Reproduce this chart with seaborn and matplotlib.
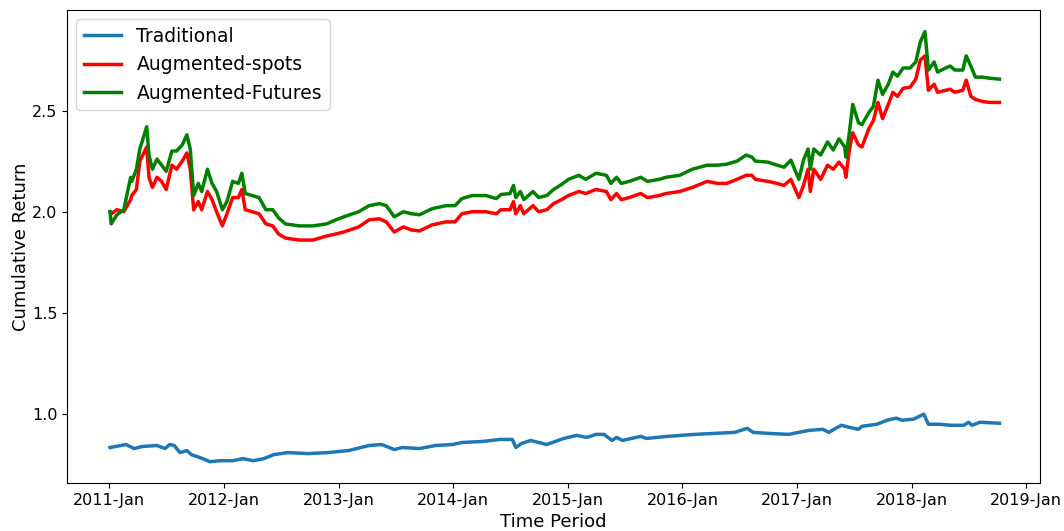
import numpy as np
import pandas as pd
import matplotlib
matplotlib.use("Agg")
import matplotlib.pyplot as plt
import matplotlib.dates as mdates
import seaborn as sns

# decimal-year positions and cumulative returns
aug_years = [
    2011.00, 2011.01, 2011.06, 2011.12, 2011.18, 2011.19, 2011.23, 2011.26, 2011.32, 2011.34,
    2011.37, 2011.41, 2011.45, 2011.49, 2011.54, 2011.58, 2011.63, 2011.67, 2011.70, 2011.73,
    2011.77, 2011.80, 2011.85, 2011.89, 2011.93, 2011.98, 2012.02, 2012.07, 2012.12, 2012.15,
    2012.18, 2012.24, 2012.30, 2012.36, 2012.42, 2012.47, 2012.53, 2012.65, 2012.77, 2012.89,
    2012.97, 2013.04, 2013.17, 2013.26, 2013.35, 2013.41, 2013.48, 2013.56, 2013.63, 2013.70,
    2013.81, 2013.93, 2014.01, 2014.07, 2014.16, 2014.28, 2014.37, 2014.41, 2014.49, 2014.52,
    2014.54, 2014.58, 2014.61, 2014.69, 2014.74, 2014.81, 2014.87, 2014.94, 2015.00, 2015.09,
    2015.15, 2015.24, 2015.33, 2015.37, 2015.42, 2015.46, 2015.53, 2015.63, 2015.69, 2015.79,
    2015.85, 2015.97, 2016.08, 2016.21, 2016.30, 2016.38, 2016.47, 2016.55, 2016.60, 2016.63,
    2016.74, 2016.82, 2016.88, 2016.94, 2017.01, 2017.05, 2017.09, 2017.11, 2017.14, 2017.20,
    2017.26, 2017.31, 2017.36, 2017.41, 2017.42, 2017.45, 2017.48, 2017.53, 2017.56, 2017.62,
    2017.66, 2017.70, 2017.74, 2017.79, 2017.83, 2017.87, 2017.92, 2017.98, 2018.03, 2018.07,
    2018.11, 2018.14, 2018.19, 2018.22, 2018.29, 2018.33, 2018.37, 2018.44, 2018.47, 2018.51,
    2018.55, 2018.61, 2018.67, 2018.76,
]
futures = [
    2.00, 1.94, 1.985, 2.01, 2.17, 2.15, 2.21, 2.31, 2.42, 2.28,
    2.21, 2.26, 2.23, 2.20, 2.30, 2.30, 2.33, 2.38, 2.31, 2.08,
    2.14, 2.10, 2.21, 2.14, 2.10, 2.01, 2.05, 2.15, 2.14, 2.19,
    2.09, 2.08, 2.07, 2.01, 2.01, 1.97, 1.94, 1.93, 1.93, 1.94,
    1.96, 1.975, 2.00, 2.03, 2.04, 2.03, 1.975, 2.00, 1.99, 1.985,
    2.015, 2.03, 2.03, 2.065, 2.08, 2.08, 2.065, 2.085, 2.09, 2.13,
    2.07, 2.10, 2.06, 2.10, 2.07, 2.08, 2.11, 2.135, 2.16, 2.18,
    2.16, 2.19, 2.18, 2.14, 2.17, 2.14, 2.15, 2.17, 2.15, 2.16,
    2.17, 2.18, 2.21, 2.23, 2.23, 2.235, 2.25, 2.28, 2.27, 2.25,
    2.245, 2.23, 2.22, 2.255, 2.16, 2.255, 2.31, 2.21, 2.31, 2.28,
    2.345, 2.305, 2.36, 2.32, 2.27, 2.39, 2.53, 2.44, 2.43, 2.49,
    2.52, 2.65, 2.58, 2.63, 2.69, 2.67, 2.71, 2.71, 2.74, 2.84,
    2.89, 2.70, 2.74, 2.69, 2.71, 2.72, 2.70, 2.70, 2.77, 2.72,
    2.665, 2.665, 2.66, 2.655,
]
spots = [
    2.00, 1.99, 2.01, 2.00, 2.06, 2.08, 2.11, 2.25, 2.32, 2.17,
    2.12, 2.17, 2.15, 2.11, 2.23, 2.21, 2.25, 2.29, 2.21, 2.01,
    2.05, 2.01, 2.10, 2.06, 2.00, 1.93, 1.99, 2.07, 2.07, 2.11,
    2.01, 2.00, 1.99, 1.94, 1.93, 1.89, 1.87, 1.86, 1.86, 1.88,
    1.89, 1.90, 1.925, 1.96, 1.965, 1.95, 1.90, 1.925, 1.91, 1.905,
    1.935, 1.95, 1.95, 1.99, 2.00, 2.00, 1.99, 2.01, 2.01, 2.05,
    1.99, 2.03, 1.99, 2.03, 2.00, 2.01, 2.04, 2.06, 2.08, 2.10,
    2.09, 2.11, 2.10, 2.06, 2.09, 2.06, 2.07, 2.09, 2.07, 2.08,
    2.09, 2.10, 2.12, 2.15, 2.14, 2.14, 2.16, 2.18, 2.18, 2.16,
    2.15, 2.14, 2.13, 2.16, 2.07, 2.13, 2.21, 2.10, 2.21, 2.16,
    2.23, 2.21, 2.245, 2.21, 2.17, 2.305, 2.39, 2.33, 2.32, 2.41,
    2.45, 2.54, 2.46, 2.53, 2.59, 2.57, 2.61, 2.615, 2.655, 2.75,
    2.77, 2.60, 2.63, 2.59, 2.60, 2.605, 2.59, 2.60, 2.65, 2.57,
    2.555, 2.545, 2.54, 2.54,
]

trad_years = [
    2011.00, 2011.14, 2011.21, 2011.28, 2011.41, 2011.48, 2011.52, 2011.56, 2011.61, 2011.67,
    2011.71, 2011.76, 2011.81, 2011.87, 2011.96, 2012.07, 2012.16, 2012.25, 2012.34, 2012.43,
    2012.55, 2012.73, 2012.90, 2013.08, 2013.26, 2013.37, 2013.48, 2013.55, 2013.70, 2013.84,
    2013.99, 2014.07, 2014.25, 2014.40, 2014.51, 2014.54, 2014.59, 2014.67, 2014.81, 2014.96,
    2015.07, 2015.16, 2015.24, 2015.31, 2015.38, 2015.42, 2015.47, 2015.63, 2015.68, 2015.86,
    2016.10, 2016.28, 2016.45, 2016.56, 2016.61, 2016.74, 2016.92, 2017.10, 2017.22, 2017.27,
    2017.38, 2017.45, 2017.53, 2017.56, 2017.69, 2017.78, 2017.86, 2017.91, 2018.01, 2018.10,
    2018.14, 2018.24, 2018.33, 2018.45, 2018.49, 2018.52, 2018.59, 2018.76,
]
traditional = [
    0.835, 0.85, 0.83, 0.84, 0.845, 0.83, 0.85, 0.845, 0.81, 0.82,
    0.80, 0.79, 0.78, 0.765, 0.77, 0.77, 0.78, 0.77, 0.78, 0.80,
    0.81, 0.805, 0.81, 0.82, 0.845, 0.85, 0.825, 0.835, 0.83, 0.845,
    0.85, 0.86, 0.865, 0.875, 0.875, 0.835, 0.855, 0.87, 0.85, 0.88,
    0.895, 0.885, 0.90, 0.90, 0.87, 0.885, 0.87, 0.89, 0.88, 0.89,
    0.90, 0.905, 0.91, 0.93, 0.91, 0.905, 0.90, 0.92, 0.925, 0.91,
    0.945, 0.935, 0.925, 0.94, 0.95, 0.97, 0.98, 0.97, 0.975, 1.00,
    0.95, 0.95, 0.945, 0.945, 0.96, 0.945, 0.96, 0.955,
]


def to_dates(years):
    years = np.asarray(years)
    return pd.Timestamp("2011-01-03") + pd.to_timedelta((years - 2011.0) * 365.25, unit="D")


fig, ax = plt.subplots(figsize=(10.64, 5.31), dpi=100)

sns.lineplot(x=to_dates(trad_years), y=traditional, ax=ax, color="#1f77b4",
             linewidth=2.5, label="Traditional")
sns.lineplot(x=to_dates(aug_years), y=spots, ax=ax, color="red",
             linewidth=2.5, label="Augmented-spots")
sns.lineplot(x=to_dates(aug_years), y=futures, ax=ax, color="green",
             linewidth=2.5, label="Augmented-Futures")

ax.xaxis.set_major_locator(mdates.YearLocator())
ax.xaxis.set_major_formatter(mdates.DateFormatter("%Y-%b"))
ax.set_xlim(pd.Timestamp("2010-08-19"), pd.Timestamp("2019-02-12"))
ax.set_yticks([1.0, 1.5, 2.0, 2.5])
ax.tick_params(labelsize=11.5)

ax.set_xlabel("Time Period", fontsize=13)
ax.set_ylabel("Cumulative Return", fontsize=13, labelpad=1)
ax.legend(loc="upper left", fontsize=13.5)

fig.subplots_adjust(left=0.063, right=0.977, top=0.981, bottom=0.09)
fig.savefig("out.png", dpi=100)
